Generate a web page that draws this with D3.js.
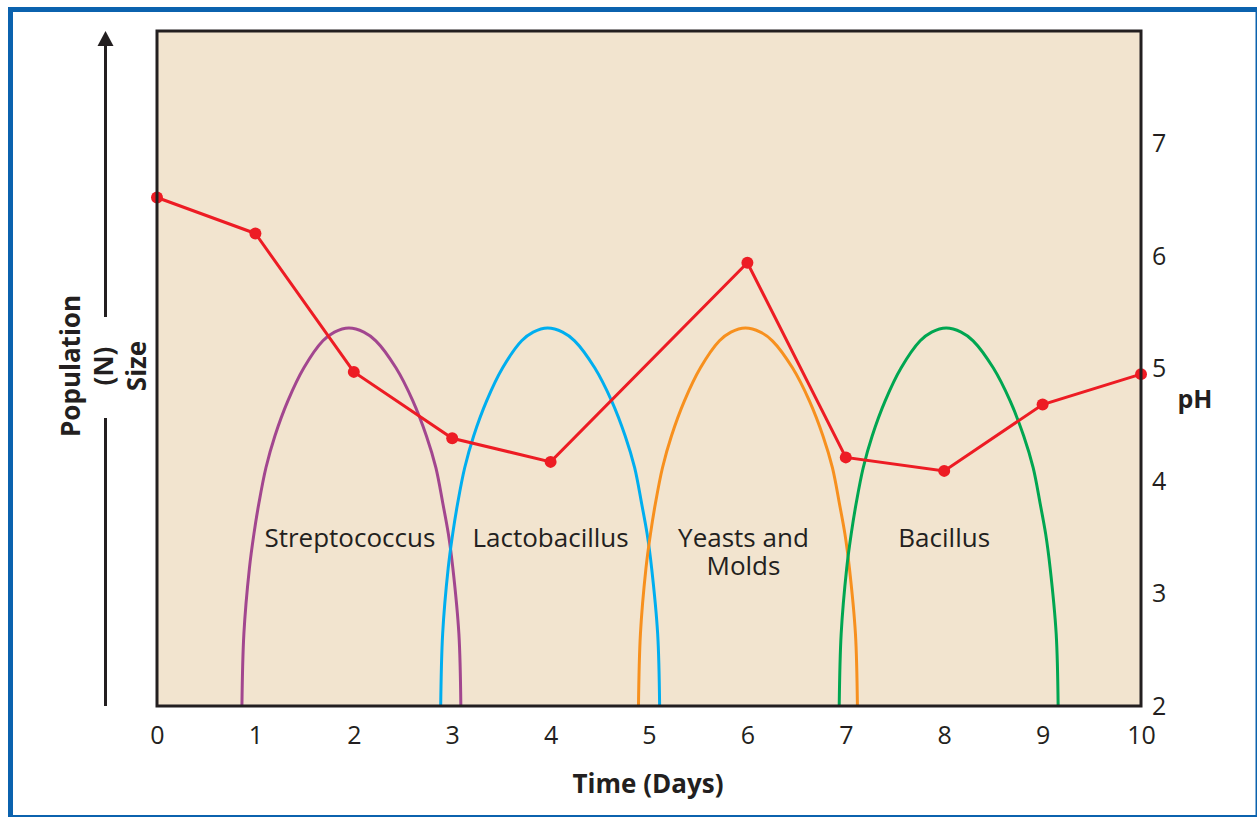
<!DOCTYPE html>
<html>
<head>
<meta charset="utf-8">
<script src="https://cdn.jsdelivr.net/npm/d3@7"></script>
<style>
  body { margin: 0; background: #fff; }
  svg { display: block; font-family: "Open Sans", "Noto Sans", sans-serif; }
</style>
</head>
<body>
<div id="wrapper"></div>
<script>
// pH readings, one per day (no reading on day 5)
const phDays = [0, 1, 2, 3, 4, 6, 7, 8, 9, 10]
const phValues = [6.52, 6.2, 4.97, 4.38, 4.17, 5.94, 4.21, 4.09, 4.68, 4.95]

// population arcs: population levels going up, over the peak, and back down
const arcLevels = [0, 10.7, 20.4, 25.5, 30, 35.3, 40, 45.2, 50.1, 54.1, 55.4, 56,
                   55.4, 54.1, 50.1, 45.2, 40, 35.3, 30, 25.5, 20.4, 10.7, 0]
// day at which each arc passes each level
const streptococcusDays = [0.863, 0.883, 0.939, 0.985, 1.035, 1.107, 1.198, 1.330, 1.493, 1.686, 1.803, 1.950,
                           2.102, 2.224, 2.428, 2.600, 2.738, 2.834, 2.905, 2.961, 3.007, 3.068, 3.088]
const lactobacillusDays = [2.883, 2.903, 2.959, 3.005, 3.055, 3.127, 3.218, 3.350, 3.513, 3.706, 3.823, 3.970,
                           4.122, 4.244, 4.448, 4.620, 4.758, 4.854, 4.925, 4.981, 5.027, 5.088, 5.108]
const yeastsDays = [4.893, 4.913, 4.969, 5.015, 5.065, 5.137, 5.228, 5.360, 5.523, 5.716, 5.833, 5.980,
                    6.132, 6.254, 6.458, 6.630, 6.768, 6.864, 6.935, 6.991, 7.037, 7.098, 7.118]
const bacillusDays = [6.933, 6.953, 7.009, 7.055, 7.105, 7.177, 7.268, 7.400, 7.563, 7.756, 7.873, 8.020,
                      8.172, 8.294, 8.498, 8.670, 8.808, 8.904, 8.975, 9.031, 9.077, 9.138, 9.158]

const seriesNames = [["Streptococcus"], ["Lactobacillus"], ["Yeasts and", "Molds"], ["Bacillus"]]
const labelDays = [1.96, 4.0, 5.96, 8.0]
const seriesColors = ["#a2468f", "#00aeef", "#f7901e", "#00a651"]

const xTicks = [0, 1, 2, 3, 4, 5, 6, 7, 8, 9, 10]
const phTicks = [2, 3, 4, 5, 6, 7]

// Dimensions
let dimensions = {
    width: 1257,
    height: 817,
    margin: { top: 31, right: 116, bottom: 111, left: 157 },
}
dimensions.boundedWidth = dimensions.width - dimensions.margin.left - dimensions.margin.right
dimensions.boundedHeight = dimensions.height - dimensions.margin.top - dimensions.margin.bottom

const ink = "#231f20"

const wrapper = d3.select("#wrapper")
    .append("svg")
    .attr("width", dimensions.width)
    .attr("height", dimensions.height)

// outer blue frame
wrapper.append("rect")
    .attr("x", 10.5).attr("y", 9.5)
    .attr("width", 1247.5).attr("height", 808)
    .attr("fill", "none")
    .attr("stroke", "#0b62ae")
    .attr("stroke-width", 5)

const bounds = wrapper.append("g")
    .attr("transform", `translate(${dimensions.margin.left}, ${dimensions.margin.top})`)

// Scales
const xScale = d3.scaleLinear()
    .domain([0, 10])
    .range([0, dimensions.boundedWidth])

const phScale = d3.scaleLinear()
    .domain([2, 8])
    .range([dimensions.boundedHeight, 0])

const popScale = d3.scaleLinear()
    .domain([0, 100])
    .range([dimensions.boundedHeight, 0])

// plot background
bounds.append("rect")
    .attr("width", dimensions.boundedWidth)
    .attr("height", dimensions.boundedHeight)
    .attr("fill", "#f2e4cf")

// population arcs
const arcLine = d3.line()
    .x(d => xScale(d[0]))
    .y(d => popScale(d[1]))
    .curve(d3.curveCatmullRom.alpha(0.5))

const arcs = [streptococcusDays, lactobacillusDays, yeastsDays, bacillusDays]
    .map(days => days.map((d, i) => [d, arcLevels[i]]))
bounds.append("g")
    .selectAll("path")
    .data(arcs)
    .join("path")
        .attr("d", arcLine)
        .attr("fill", "none")
        .attr("stroke", (d, i) => seriesColors[i])
        .attr("stroke-width", 3)

// arc labels
const labels = bounds.append("g")
    .attr("fill", ink)
    .attr("font-size", 26)
    .attr("text-anchor", "middle")
    .selectAll("text")
    .data(seriesNames)
    .join("text")
        .attr("x", (d, i) => xScale(labelDays[i]))
        .attr("y", popScale(23.6))
labels.selectAll("tspan")
    .data(d => d)
    .join("tspan")
        .attr("x", function() { return d3.select(this.parentNode).attr("x") })
        .attr("dy", (d, i) => i === 0 ? 0 : 28)
        .text(d => d)

// pH line
const phData = phDays.map((d, i) => ({ day: d, ph: phValues[i] }))
const phLine = d3.line()
    .x(d => xScale(d.day))
    .y(d => phScale(d.ph))

bounds.append("path")
    .datum(phData)
    .attr("d", phLine)
    .attr("fill", "none")
    .attr("stroke", "#ed1c24")
    .attr("stroke-width", 3)

bounds.append("g")
    .selectAll("circle")
    .data(phData)
    .join("circle")
        .attr("cx", d => xScale(d.day))
        .attr("cy", d => phScale(d.ph))
        .attr("r", 6)
        .attr("fill", "#ed1c24")

// plot frame
bounds.append("rect")
    .attr("width", dimensions.boundedWidth)
    .attr("height", dimensions.boundedHeight)
    .attr("fill", "none")
    .attr("stroke", ink)
    .attr("stroke-width", 3)

// x axis
const xAxisGenerator = d3.axisBottom()
    .scale(xScale)
    .tickValues(xTicks)
    .tickFormat(d3.format("d"))
    .tickSize(0)
    .tickPadding(20)
const xAxis = bounds.append("g")
    .call(xAxisGenerator)
    .attr("transform", `translate(0, ${dimensions.boundedHeight})`)
xAxis.select(".domain").remove()
xAxis.selectAll("text")
    .attr("font-size", 25)
    .attr("font-family", "Open Sans")
    .attr("fill", ink)

// pH axis
const yAxisGenerator = d3.axisRight()
    .scale(phScale)
    .tickValues(phTicks)
    .tickFormat(d3.format("d"))
    .tickSize(0)
    .tickPadding(11)
const yAxis = bounds.append("g")
    .call(yAxisGenerator)
    .attr("transform", `translate(${dimensions.boundedWidth}, 0)`)
yAxis.select(".domain").remove()
yAxis.selectAll("text")
    .attr("font-size", 25)
    .attr("font-family", "Open Sans")
    .attr("fill", ink)

// axis titles
wrapper.append("text")
    .attr("x", 648)
    .attr("y", 793)
    .attr("text-anchor", "middle")
    .attr("font-size", 26)
    .attr("font-weight", "bold")
    .attr("fill", ink)
    .text("Time (Days)")

wrapper.append("text")
    .attr("x", 1195)
    .attr("y", 408)
    .attr("text-anchor", "middle")
    .attr("font-size", 25)
    .attr("font-weight", "bold")
    .attr("fill", ink)
    .text("pH")

// population arrow on the left
const arrowX = 105.5
wrapper.append("line")
    .attr("x1", arrowX).attr("x2", arrowX)
    .attr("y1", 706).attr("y2", 418)
    .attr("stroke", ink).attr("stroke-width", 3)
wrapper.append("line")
    .attr("x1", arrowX).attr("x2", arrowX)
    .attr("y1", 317).attr("y2", 44)
    .attr("stroke", ink).attr("stroke-width", 3)
wrapper.append("path")
    .attr("d", `M${arrowX},31 L${arrowX - 8},46 L${arrowX + 8},46 Z`)
    .attr("fill", ink)

const popLabel = ["Population", "(N)", "Size"]
wrapper.append("g")
    .selectAll("text")
    .data(popLabel)
    .join("text")
        .attr("transform", (d, i) => `translate(${80 + i * 33}, 366) rotate(-90)`)
        .attr("text-anchor", "middle")
        .attr("font-size", 26)
        .attr("font-weight", "bold")
        .attr("fill", ink)
        .text(d => d)
</script>
</body>
</html>
